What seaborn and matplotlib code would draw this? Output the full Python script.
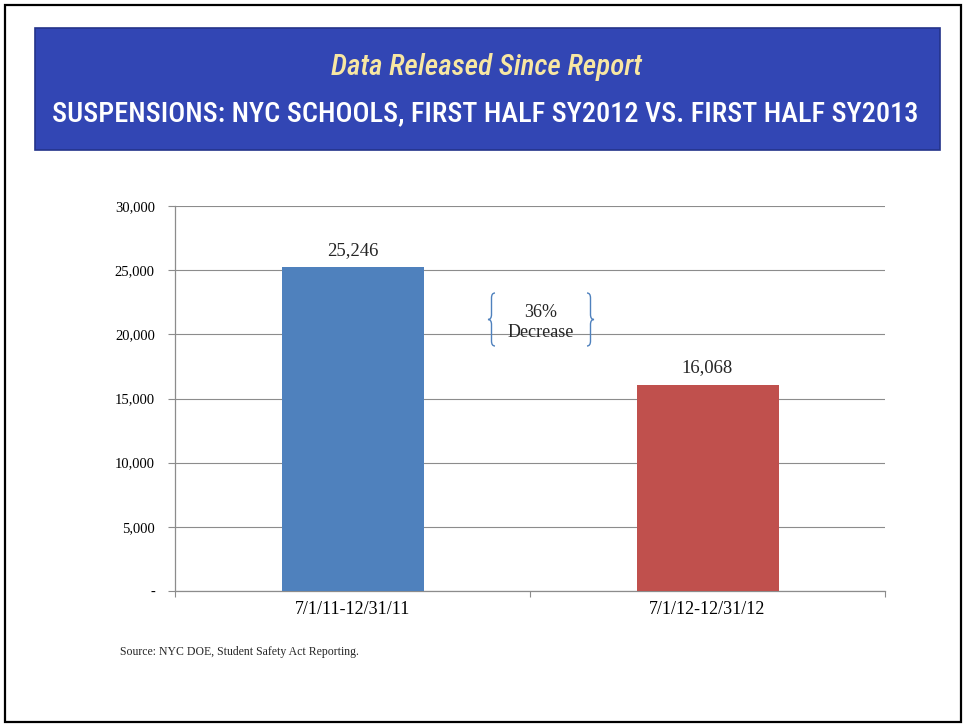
import matplotlib
matplotlib.use("Agg")
import matplotlib.pyplot as plt
import seaborn as sns
import pandas as pd
from matplotlib.patches import Rectangle, PathPatch
from matplotlib.path import Path
from matplotlib.transforms import Affine2D
from matplotlib.ticker import FuncFormatter, FixedLocator

# ---- data ----
periods = ["7/1/11-12/31/11", "7/1/12-12/31/12"]
suspensions = [25246, 16068]
bar_colors = ["#4F81BD", "#C0504D"]
y_ticks = [0, 5000, 10000, 15000, 20000, 25000, 30000]
change_label = "36%\nDecrease"
subtitle = "Data Released Since Report"
title = "SUSPENSIONS: NYC SCHOOLS, FIRST HALF SY2012 VS. FIRST HALF SY2013"
source = "Source: NYC DOE, Student Safety Act Reporting."

df = pd.DataFrame({"period": periods, "suspensions": suspensions})

sns.set_theme(style="white")
plt.rcParams["font.family"] = ["Liberation Serif", "DejaVu Serif"]

W, H = 965, 725
fig = plt.figure(figsize=(W / 100, H / 100), dpi=100)
fig.patch.set_facecolor("white")

# pixel transform (origin top-left)
px = Affine2D().scale(1, -1).translate(0, H).scale(0.01) + fig.dpi_scale_trans

# outer border
fig.patches.append(Rectangle((5, 5), 956, 717, transform=px, fill=False,
                             edgecolor="black", linewidth=1.6, zorder=0))
# header banner
fig.patches.append(Rectangle((35, 28), 905, 122, transform=px,
                             facecolor="#3246B4", edgecolor="#24338A",
                             linewidth=1.2, zorder=0))
head_family = ["Roboto Condensed", "Roboto", "DejaVu Sans"]
fig.text(486.5 / W, 1 - 67 / H, subtitle, ha="center", va="center",
         color="#F8E7A2", fontsize=21, style="italic", fontweight="medium",
         family=head_family)
fig.text(485.5 / W, 1 - 114 / H, title, ha="center", va="center",
         color="white", fontsize=20.3, fontweight="medium",
         family=head_family)

# axes
ax = fig.add_axes([175 / W, 1 - 591 / H, 710 / W, 385 / H])
sns.barplot(data=df, x="period", y="suspensions", hue="period",
            palette=bar_colors, width=0.4, legend=False, ax=ax,
            saturation=1, linewidth=0, zorder=3)
ax.set_xlim(-0.5, 1.5)
ax.set_ylim(0, 30000)
ax.set_yticks(y_ticks)
ax.yaxis.set_major_formatter(FuncFormatter(lambda v, p: "-" if v == 0 else f"{v:,.0f}"))
ax.set_xlabel("")
ax.set_ylabel("")
ax.grid(axis="y", color="#8C8C8C", linewidth=0.8, zorder=0)
ax.set_axisbelow(True)
for s in ["top", "right"]:
    ax.spines[s].set_visible(False)
for s in ["left", "bottom"]:
    ax.spines[s].set_color("#8C8C8C")
    ax.spines[s].set_linewidth(0.9)
ax.tick_params(axis="y", which="major", left=True, length=5, width=0.8,
               color="#8C8C8C", direction="out", labelsize=10.5, pad=9.5,
               labelcolor="black")
ax.tick_params(axis="x", which="major", length=0, labelsize=13, pad=7,
               labelcolor="black")
ax.xaxis.set_minor_locator(FixedLocator([-0.5, 0.5, 1.5]))
ax.tick_params(axis="x", which="minor", bottom=True, length=4, width=0.8,
               color="#8C8C8C", direction="out")

for cont in ax.containers:
    ax.bar_label(cont, labels=[f"{v:,.0f}" for v in cont.datavalues],
                 padding=6, fontsize=13.5)

# "36% Decrease" with braces
ax.text(0.531, 20900, change_label, ha="center", va="center", fontsize=13,
        linespacing=1.25, zorder=5)


def brace(x, y0, y1, w, left=True):
    s = 1 if left else -1
    ym = (y0 + y1) / 2
    c = 5
    verts = [
        (x + s * w, y0),
        (x + s * w / 2, y0), (x + s * w / 2, y0 + c),
        (x + s * w / 2, ym - c),
        (x + s * w / 2, ym), (x, ym),
        (x + s * w / 2, ym), (x + s * w / 2, ym + c),
        (x + s * w / 2, y1 - c),
        (x + s * w / 2, y1), (x + s * w, y1),
    ]
    codes = [Path.MOVETO, Path.CURVE3, Path.CURVE3, Path.LINETO,
             Path.CURVE3, Path.CURVE3, Path.CURVE3, Path.CURVE3,
             Path.LINETO, Path.CURVE3, Path.CURVE3]
    fig.patches.append(PathPatch(Path(verts, codes), transform=px, fill=False,
                                 edgecolor="#4F81BD", linewidth=1.0, zorder=5))


brace(488, 293, 346, 7, left=True)
brace(594, 293, 346, 7, left=False)

fig.text(120 / W, 1 - 652 / H, source, ha="left", va="center", fontsize=8.5)

fig.savefig("out.png", dpi=100)
